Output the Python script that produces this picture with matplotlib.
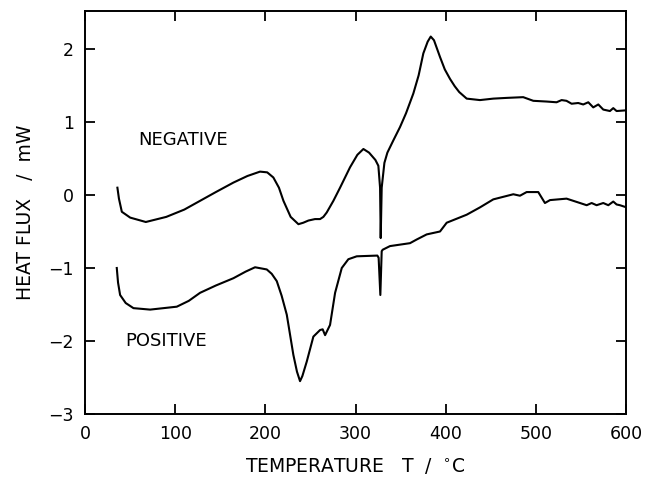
import matplotlib
matplotlib.use("Agg")
import matplotlib.pyplot as plt

# Negative curve (temperature in degC, heat flux in mW)
neg_T = [35.8, 37.5, 40.7, 50, 67.3, 90, 110, 127.5, 145, 164.5, 180, 194, 202, 208.8,
         215, 220, 228, 236.6, 242, 247.7, 255, 260.6, 264.3, 268, 275.4, 282.8, 293.9,
         302, 308.7, 315, 322, 325.3, 327.2, 327.9, 329.0, 332.0, 335.3, 342, 349.3,
         356, 364.1, 370, 375.2, 380, 383.4, 387, 393.7, 399, 404.8, 410, 415, 423.3,
         438, 452.8, 467.6, 486, 497.2, 512, 523, 528.6, 534, 539.7, 547, 552.6, 558.2,
         563.7, 569.3, 574.8, 582.2, 585.9, 589.6, 600.7]
neg_Q = [0.10, -0.05, -0.23, -0.31, -0.37, -0.30, -0.20, -0.08, 0.04, 0.17, 0.26, 0.32,
         0.31, 0.24, 0.10, -0.08, -0.30, -0.40, -0.38, -0.35, -0.33, -0.33, -0.30, -0.24,
         -0.08, 0.10, 0.38, 0.55, 0.63, 0.58, 0.48, 0.40, 0.10, -0.59, 0.10, 0.44, 0.58,
         0.75, 0.93, 1.12, 1.39, 1.64, 1.94, 2.10, 2.17, 2.12, 1.89, 1.72, 1.59, 1.49,
         1.41, 1.32, 1.30, 1.32, 1.33, 1.34, 1.29, 1.28, 1.27, 1.30, 1.29, 1.25, 1.26,
         1.24, 1.27, 1.20, 1.24, 1.17, 1.15, 1.19, 1.15, 1.16]

# Positive curve
pos_T = [35.1, 36.5, 38.8, 45, 53.6, 72.1, 101.7, 115, 127.5, 145, 164.5, 178, 188.5,
         201.5, 207, 212.6, 218, 223.7, 231, 235, 238.4, 241, 245.9, 253.2, 260.6, 263.5,
         266.2, 271.7, 277.3, 284.7, 292, 301.3, 324.2, 325.6, 327.5, 329.0, 330.1, 338.2,
         360.4, 367.8, 378.9, 393.7, 401.1, 423.3, 438, 452.8, 475, 482.4, 489.8, 502.7,
         510.1, 515.7, 534.1, 549, 556.4, 561.9, 567.4, 574.8, 580.4, 585.9, 589.6, 593.3,
         600.7]
pos_Q = [-1.0, -1.2, -1.37, -1.48, -1.55, -1.57, -1.53, -1.45, -1.34, -1.24, -1.14, -1.05,
         -0.99, -1.02, -1.08, -1.18, -1.38, -1.64, -2.19, -2.42, -2.55, -2.48, -2.28, -1.94,
         -1.85, -1.84, -1.92, -1.78, -1.34, -1.0, -0.88, -0.84, -0.83, -0.86, -1.37, -0.77,
         -0.75, -0.70, -0.66, -0.61, -0.54, -0.50, -0.38, -0.27, -0.17, -0.06, 0.01, -0.01,
         0.04, 0.04, -0.11, -0.07, -0.05, -0.11, -0.14, -0.11, -0.14, -0.11, -0.14, -0.09,
         -0.13, -0.14, -0.17]

x_ticks = [0, 100, 200, 300, 400, 500, 600]
y_ticks = [-3, -2, -1, 0, 1, 2]
y_ticklabels = ["\u22123", "\u22122", "\u22121", "0", "1", "2"]

fig = plt.figure(figsize=(6.45, 4.79), dpi=100)
ax = fig.add_axes([0.132, 0.1357, 0.8385, 0.8413])

ax.plot(neg_T, neg_Q, color="black", lw=1.5)
ax.plot(pos_T, pos_Q, color="black", lw=1.5)

ax.set_xlim(0, 600)
ax.set_ylim(-3, 2.52)
ax.set_xticks(x_ticks)
ax.set_yticks(y_ticks)
ax.set_yticklabels(y_ticklabels)

for s in ax.spines.values():
    s.set_linewidth(1.4)

ax.tick_params(direction="in", length=7, width=1.3, top=True, right=True,
               labelsize=12.5)
ax.tick_params(axis="x", pad=8)
ax.tick_params(axis="y", pad=8)

ax.text(58.8, 0.76, "NEGATIVE", fontsize=13, va="center", ha="left")
ax.text(44.4, -2.0, "POSITIVE", fontsize=13, va="center", ha="left")

ax.set_xlabel("TEMPERATURE   T  /  $^{\\circ}$C", fontsize=13.5, labelpad=9)
ax.set_ylabel("HEAT FLUX   /  mW", fontsize=13.5, labelpad=10)

fig.savefig("out.png", dpi=100, facecolor="white")
